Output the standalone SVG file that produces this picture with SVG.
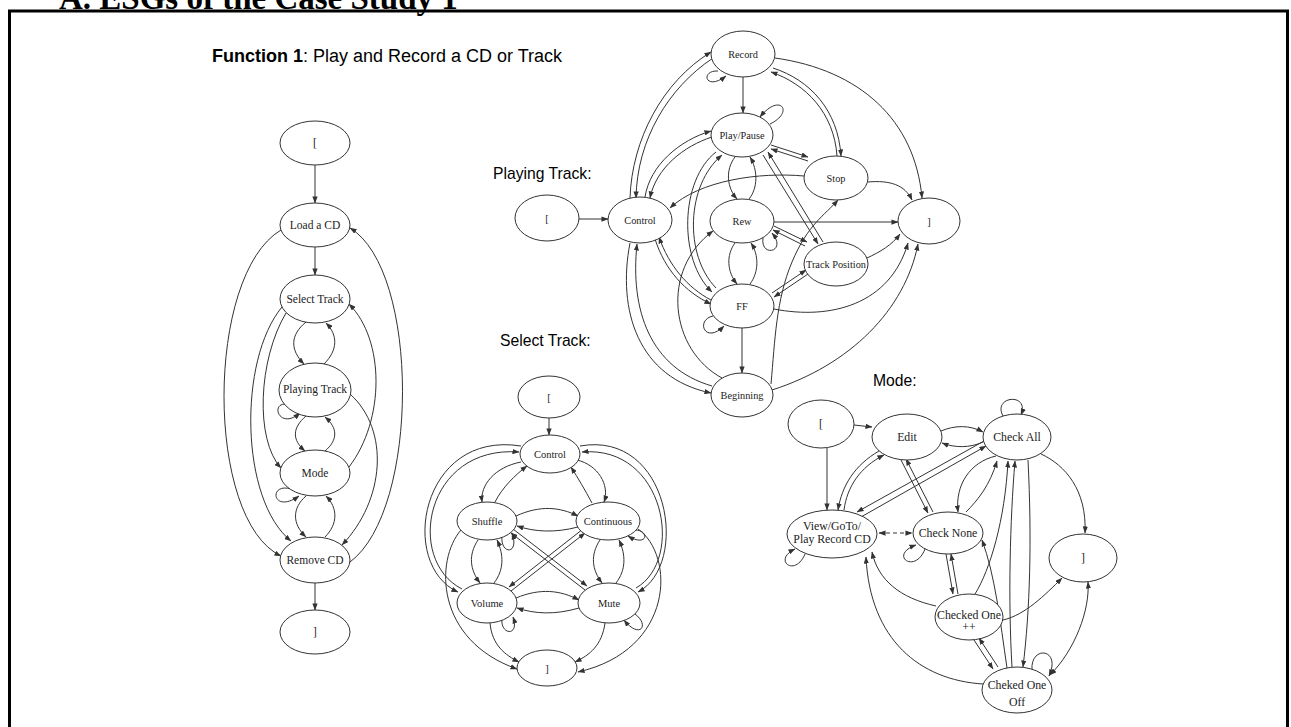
<svg xmlns="http://www.w3.org/2000/svg" width="1291" height="727" viewBox="0 0 1291 727">
<defs>
  <marker id="ah" viewBox="0 0 8 6" refX="7.5" refY="3" markerWidth="7" markerHeight="5.5" markerUnits="userSpaceOnUse" orient="auto-start-reverse">
    <path d="M0,0 L8,3 L0,6 z" fill="#333"/>
  </marker>
</defs>
<style>
  .frame{fill:none;stroke:#000;stroke-width:3}
  .title{font-family:"Liberation Serif","Times New Roman",serif;font-weight:bold;font-size:33px;fill:#000}
  .lbl{font-family:"Liberation Sans",Arial,sans-serif;font-size:15.7px;fill:#000}
  .head{font-family:"Liberation Sans",Arial,sans-serif;font-size:18px;fill:#000}
  .node ellipse{fill:#fff;stroke:#333;stroke-width:1}
  .node text{font-family:"Liberation Serif","Times New Roman",serif;fill:#222;text-anchor:middle}
  .s1 text{font-size:11.5px}
  .s2 text{font-size:10.3px}
  .s3 text{font-size:10.5px}
  .s4 text{font-size:11.8px}
  #connectors path{fill:none;stroke:#333;stroke-width:1;marker-end:url(#ah)}
  #connectors path.bi{marker-start:url(#ah)}
  #connectors path.dash{stroke-dasharray:4 3}
</style>
<rect width="1291" height="727" fill="#fff"/>

<!-- page heading and frame -->
<text class="title" x="59" y="9">A. ESGs of the Case Study 1</text>
<path class="frame" d="M9.5,727 L9.5,11 L1287.5,11 L1287.5,727"/>
<text class="head" x="212" y="62"><tspan font-weight="bold">Function 1</tspan>: Play and Record a CD or Track</text>
<text class="lbl" x="493" y="179">Playing Track:</text>
<text class="lbl" x="500" y="346">Select Track:</text>
<text class="lbl" x="873" y="386">Mode:</text>

<g id="connectors">
  <!-- Function 1 -->
  <g id="e-f1">
    <path d="M315,165 L315,203"/>
    <path d="M315,247 L315,275"/>
    <path d="M306,322 C290,335 290,350 304,364"/>
    <path d="M324,364 C338,350 338,335 326,323"/>
    <path d="M306,416 C292,428 292,440 305,451"/>
    <path d="M325,451 C338,440 338,428 325,417"/>
    <path d="M306,496 C292,508 292,524 306,537"/>
    <path d="M325,537 C338,524 338,508 326,496"/>
    <path d="M291,405 C268,398 278,432 300,413"/>
    <path d="M291,489 C268,482 272,515 299,496"/>
    <path d="M315,583 L315,610"/>
    <path d="M281,230 C205,275 205,520 281,556"/>
    <path d="M282,307 C238,360 240,500 291,541"/>
    <path d="M286,313 C258,360 255,440 281,468"/>
    <path d="M350,562 C420,510 420,270 350,228"/>
    <path d="M349,467 C385,420 385,340 349,304"/>
    <path d="M350,394 C390,430 385,500 342,545"/>
  </g>
  <!-- Playing Track -->
  <g id="e-pt">
    <path d="M579,219 L608,219"/>
    <path d="M743,77 L743,113"/>
    <path d="M718,71 C700,70 705,92 726,76"/>
    <path d="M770,124 C795,112 780,92 760,117"/>
    <path d="M775,58 C860,70 915,120 922,198"/>
    <path d="M773,68 C810,80 838,110 841,156"/>
    <path d="M837,156 C834,113 806,84 771,72"/>
    <path d="M630,198 C632,140 662,82 711,52"/>
    <path d="M713,58 C668,88 637,140 636,198"/>
    <path d="M645,197 C650,165 680,140 711,131"/>
    <path d="M712,137 C684,146 656,168 650,198"/>
    <path d="M771,145 L808,157"/>
    <path d="M808,161 L771,149"/>
    <path d="M735,157 C725,170 727,188 737,199"/>
    <path d="M749,199 C758,188 758,170 750,157"/>
    <path d="M763,155 L818,244"/>
    <path d="M823,242 L768,152"/>
    <path d="M716,152 C680,180 678,260 712,292"/>
    <path d="M716,288 C684,255 686,185 722,155"/>
    <path d="M804,176 C760,172 700,180 670,208"/>
    <path d="M868,182 C890,180 905,185 912,200"/>
    <path d="M774,222 L898,222"/>
    <path d="M763,238 C760,258 788,252 772,233"/>
    <path d="M774,226 L807,242"/>
    <path d="M805,246 L773,230"/>
    <path d="M867,258 C880,252 892,245 900,234"/>
    <path d="M772,293 L806,270"/>
    <path d="M808,274 L774,297"/>
    <path d="M771,384 C775,340 776,300 792,262 S825,215 838,200"/>
    <path d="M742,328 L742,373"/>
    <path d="M774,309 C830,320 890,305 908,243"/>
    <path d="M772,390 C850,365 905,310 918,244"/>
    <path d="M735,243 C726,255 727,272 737,284"/>
    <path d="M750,284 C759,272 759,255 751,243"/>
    <path d="M655,239 C665,270 685,292 711,304"/>
    <path d="M711,300 C688,288 669,266 659,237"/>
    <path d="M630,243 C617,310 638,378 711,393"/>
    <path d="M712,386 C650,368 630,310 637,244"/>
    <path d="M722,378 C670,350 660,270 713,231"/>
    <path d="M713,316 C695,320 705,345 724,326"/>
  </g>
  <!-- Select Track -->
  <g id="e-st">
    <path d="M549,418 L549,435"/>
    <path d="M521,462 C495,467 480,485 482,502"/>
    <path d="M495,502 C502,488 515,475 527,466"/>
    <path d="M577,460 C598,465 610,485 604,502"/>
    <path d="M592,503 C585,490 578,478 571,467"/>
    <path d="M516,516 C540,505 560,507 578,516"/>
    <path d="M578,527 C555,533 535,532 517,526"/>
    <path d="M516,598 C540,588 560,590 579,600"/>
    <path d="M579,608 C555,615 535,614 517,608"/>
    <path d="M478,540 C468,555 470,570 480,583"/>
    <path d="M494,583 C504,570 504,555 497,540"/>
    <path d="M600,540 C590,555 592,570 602,583"/>
    <path d="M616,583 C626,570 626,555 619,540"/>
    <path d="M513,529 L587,586"/>
    <path d="M585,590 L511,533"/>
    <path d="M583,529 L509,587"/>
    <path d="M511,591 L585,533"/>
    <path d="M502,536 C500,555 520,555 512,533"/>
    <path d="M635,530 C650,530 648,548 628,536"/>
    <path d="M502,619 C500,635 520,637 513,617"/>
    <path d="M635,614 C650,625 640,640 624,620"/>
    <path d="M521,446 C420,430 398,565 458,592"/>
    <path d="M462,589 C405,560 425,445 519,452"/>
    <path d="M580,446 C670,430 690,565 638,592"/>
    <path d="M636,588 C685,560 665,445 582,452"/>
    <path d="M461,530 C435,560 435,640 517,669"/>
    <path d="M638,529 C675,555 675,650 578,672"/>
    <path d="M490,623 C492,645 505,655 519,662"/>
    <path d="M605,623 C602,645 590,655 575,662"/>
  </g>
  <!-- Mode -->
  <g id="e-mode">
    <path d="M854,425 L872,427"/>
    <path d="M827,448 L827,510"/>
    <path d="M941,431 C955,425 970,425 983,432"/>
    <path d="M983,442 C970,448 955,448 942,443"/>
    <path d="M879,451 C855,465 842,485 838,510"/>
    <path d="M844,510 C847,487 860,467 884,455"/>
    <path d="M901,460 L928,513"/>
    <path d="M933,512 L906,459"/>
    <path d="M984,441 L857,512"/>
    <path d="M861,517 L986,446"/>
    <path d="M996,456 C970,462 955,485 958,512"/>
    <path d="M966,512 C978,500 990,485 997,461"/>
    <path d="M1003,416 C992,396 1030,392 1021,415"/>
    <path d="M1041,454 C1065,465 1087,490 1085,533"/>
    <path class="bi dash" d="M879,533 L912,533"/>
    <path d="M805,554 C795,578 772,560 795,549"/>
    <path d="M925,549 C915,575 888,555 916,545"/>
    <path d="M946,554 L953,594"/>
    <path d="M958,594 L951,554"/>
    <path d="M936,606 C900,598 878,580 872,552"/>
    <path d="M983,684 C920,680 870,640 866,557"/>
    <path d="M974,640 L993,669"/>
    <path d="M998,667 L979,638"/>
    <path d="M1003,620 C1025,615 1045,595 1062,578"/>
    <path d="M975,594 C990,570 1005,520 1008,461"/>
    <path d="M1012,667 C1008,600 1010,520 1015,461"/>
    <path d="M1028,460 C1032,540 1030,610 1023,667"/>
    <path d="M1007,668 C1000,620 995,575 982,540"/>
    <path d="M1032,670 C1030,645 1062,648 1049,676"/>
    <path class="bi" d="M1050,675 C1075,650 1090,610 1088,582"/>
  </g>
</g>

<!-- Function 1 nodes -->
<g class="s1">
  <g id="f1-start" class="node"><ellipse cx="315" cy="143" rx="35" ry="22"/><text x="315" y="147">[</text></g>
  <g id="f1-load" class="node"><ellipse cx="315" cy="225" rx="35" ry="22"/><text x="315" y="229">Load a CD</text></g>
  <g id="f1-select" class="node"><ellipse cx="315" cy="299" rx="35" ry="24"/><text x="315" y="303">Select Track</text></g>
  <g id="f1-playing" class="node"><ellipse cx="315" cy="390" rx="36" ry="27"/><text x="315" y="393">Playing Track</text></g>
  <g id="f1-mode" class="node"><ellipse cx="315" cy="473" rx="35" ry="23"/><text x="315" y="477">Mode</text></g>
  <g id="f1-remove" class="node"><ellipse cx="315" cy="560" rx="35" ry="23"/><text x="315" y="564">Remove CD</text></g>
  <g id="f1-end" class="node"><ellipse cx="315" cy="632" rx="35" ry="22"/><text x="315" y="636">]</text></g>
</g>

<!-- Playing Track nodes -->
<g class="s2">
  <g id="pt-record" class="node"><ellipse cx="743" cy="54" rx="32" ry="23"/><text x="743" y="58">Record</text></g>
  <g id="pt-playpause" class="node"><ellipse cx="742" cy="135" rx="31" ry="22"/><text x="742" y="139">Play/Pause</text></g>
  <g id="pt-stop" class="node"><ellipse cx="836" cy="178" rx="32" ry="22"/><text x="836" y="182">Stop</text></g>
  <g id="pt-start" class="node"><ellipse cx="547" cy="218" rx="32" ry="23"/><text x="547" y="222">[</text></g>
  <g id="pt-control" class="node"><ellipse cx="640" cy="220" rx="32" ry="23"/><text x="640" y="224">Control</text></g>
  <g id="pt-rew" class="node"><ellipse cx="742" cy="221" rx="32" ry="22"/><text x="742" y="225">Rew</text></g>
  <g id="pt-end" class="node"><ellipse cx="929" cy="221" rx="31" ry="23"/><text x="929" y="225">]</text></g>
  <g id="pt-trackpos" class="node"><ellipse cx="836" cy="264" rx="32" ry="22"/><text x="836" y="268">Track Position</text></g>
  <g id="pt-ff" class="node"><ellipse cx="742" cy="306" rx="32" ry="22"/><text x="742" y="310">FF</text></g>
  <g id="pt-beginning" class="node"><ellipse cx="742" cy="395" rx="31" ry="22"/><text x="742" y="399">Beginning</text></g>
</g>

<!-- Select Track nodes -->
<g class="s3">
  <g id="st-start" class="node"><ellipse cx="549" cy="397" rx="31" ry="21"/><text x="549" y="401">[</text></g>
  <g id="st-control" class="node"><ellipse cx="550" cy="454" rx="30" ry="19"/><text x="550" y="458">Control</text></g>
  <g id="st-shuffle" class="node"><ellipse cx="487" cy="521" rx="30" ry="19"/><text x="487" y="525">Shuffle</text></g>
  <g id="st-continuous" class="node"><ellipse cx="608" cy="521" rx="32" ry="19"/><text x="608" y="525">Continuous</text></g>
  <g id="st-volume" class="node"><ellipse cx="487" cy="603" rx="30" ry="20"/><text x="487" y="607">Volume</text></g>
  <g id="st-mute" class="node"><ellipse cx="609" cy="603" rx="31" ry="20"/><text x="609" y="607">Mute</text></g>
  <g id="st-end" class="node"><ellipse cx="547" cy="668" rx="30" ry="18"/><text x="547" y="672">]</text></g>
</g>

<!-- Mode nodes -->
<g class="s4">
  <g id="md-start" class="node"><ellipse cx="821" cy="424" rx="33" ry="24"/><text x="821" y="428">[</text></g>
  <g id="md-edit" class="node"><ellipse cx="907" cy="437" rx="35" ry="23"/><text x="907" y="441">Edit</text></g>
  <g id="md-checkall" class="node"><ellipse cx="1017" cy="437" rx="34" ry="23"/><text x="1017" y="441">Check All</text></g>
  <g id="md-view" class="node"><ellipse cx="832" cy="534" rx="45" ry="24"/><text x="832" y="530">View/GoTo/</text><text x="832" y="543">Play Record CD</text></g>
  <g id="md-checknone" class="node"><ellipse cx="948" cy="533" rx="35" ry="21"/><text x="948" y="537">Check None</text></g>
  <g id="md-end" class="node"><ellipse cx="1083" cy="558" rx="34" ry="24"/><text x="1083" y="562">]</text></g>
  <g id="md-checkedone" class="node"><ellipse cx="969" cy="617" rx="34" ry="23"/><text x="969" y="619">Checked One</text><text x="969" y="631">++</text></g>
  <g id="md-checkedoff" class="node"><ellipse cx="1017" cy="690" rx="35" ry="23"/><text x="1017" y="689">Cheked One</text><text x="1017" y="706">Off</text></g>
</g>
</svg>
